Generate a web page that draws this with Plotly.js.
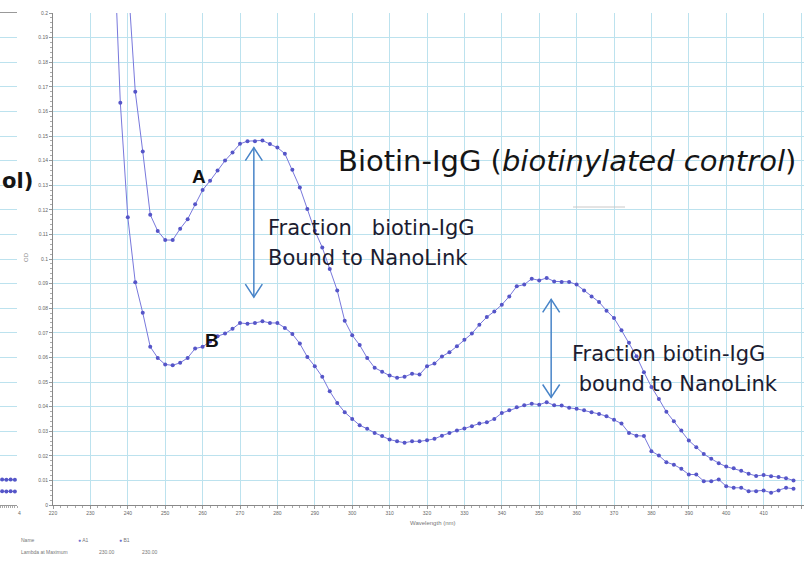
<!DOCTYPE html>
<html><head><meta charset="utf-8">
<script src="https://cdn.plot.ly/plotly-3.0.1.min.js"></script>
<style>html,body{margin:0;padding:0;background:#fff}#chart{width:804px;height:561px}</style>
</head><body><div id="chart"></div>
<script>
// Wavelengths (nm)
const wavelength = [236,238,240,242,244,246,248,250,252,254,256,258,260,262,264,266,268,270,272,274,276,278,280,282,284,286,288,290,292,294,296,298,300,302,304,306,308,310,312,314,316,318,320,322,324,326,328,330,332,334,336,338,340,342,344,346,348,350,352,354,356,358,360,362,364,366,368,370,372,374,376,378,380,382,384,386,388,390,392,394,396,398,400,402,404,406,408,410,412,414,416,418];
// Curve A (OD)
const seriesA = [null,null,0.215,0.168,0.1437,0.118,0.1114,0.1077,0.1077,0.1123,0.1162,0.1223,0.128,0.1318,0.136,0.140,0.1433,0.1468,0.1479,0.1479,0.1482,0.1467,0.1453,0.1428,0.1363,0.1291,0.1203,0.1115,0.1047,0.0959,0.0872,0.0749,0.069,0.065,0.0598,0.0558,0.0542,0.0526,0.0517,0.0521,0.0534,0.053,0.0564,0.0575,0.0604,0.0621,0.0645,0.0672,0.0697,0.0733,0.0764,0.0787,0.0814,0.0848,0.0889,0.0896,0.092,0.0913,0.0923,0.0909,0.0907,0.0907,0.0896,0.0872,0.0848,0.0825,0.079,0.076,0.071,0.066,0.0605,0.054,0.048,0.0431,0.0379,0.034,0.0303,0.0262,0.0235,0.0207,0.0188,0.017,0.0156,0.0149,0.0139,0.0127,0.0118,0.0122,0.0117,0.0114,0.0109,0.0100];
// Curve B (OD)
const seriesB = [0.24,0.1635,0.117,0.0905,0.0781,0.0643,0.0598,0.0571,0.0568,0.0578,0.0598,0.0636,0.0643,0.0665,0.0686,0.0697,0.0716,0.074,0.0737,0.074,0.0747,0.074,0.074,0.072,0.0695,0.0656,0.0602,0.0564,0.0521,0.0462,0.0415,0.0377,0.035,0.0324,0.031,0.0293,0.028,0.0266,0.0259,0.0253,0.0259,0.0259,0.0263,0.0269,0.0282,0.0293,0.0303,0.0311,0.032,0.0331,0.0336,0.035,0.0374,0.0385,0.0397,0.0405,0.0412,0.0408,0.0418,0.0405,0.0404,0.0395,0.0391,0.0385,0.0377,0.037,0.0361,0.0347,0.0331,0.0293,0.0282,0.028,0.0219,0.0201,0.0174,0.0164,0.0147,0.0124,0.0124,0.0097,0.0097,0.0104,0.0076,0.007,0.007,0.0056,0.0056,0.0059,0.005,0.0059,0.007,0.0066];
// Fragment of neighbouring chart (left edge)
const fragX = [0.5,1.5,2.5,3.5];
const fragA = [0.0104,0.0103,0.0104,0.0103];
const fragB = [0.0056,0.0055,0.0056,0.0055];

const W = 804, H = 561, T = 13, B = 56;
const px = x => x / W;
const py = y => (H - B - y) / (H - T - B);
const NM_PER_PX = (420.8 - 220) / (W - 53);
const OD_PER_PX = 0.2 / (H - T - B);

const lineCol = 'rgb(120,120,220)';
const markCol = 'rgb(85,85,200)';
const gridCol = 'rgb(188,226,238)';
const arrowCol = 'rgb(72,132,200)';
const txtCol = '#1c1c30';
const textFont = 'DejaVu Sans, sans-serif';

function dblArrow(xv, yTop, yBot) {
  const hw = 8.5 * NM_PER_PX, hl = 13 * OD_PER_PX;
  const st = {color: arrowCol, width: 1.5};
  return [
    {type: 'line', xref: 'x', yref: 'y', x0: xv, x1: xv, y0: yTop, y1: yBot, line: st},
    {type: 'path', xref: 'x', yref: 'y',
     path: `M${xv - hw},${yTop - hl} L${xv},${yTop} L${xv + hw},${yTop - hl}`, line: st},
    {type: 'path', xref: 'x', yref: 'y',
     path: `M${xv - hw},${yBot + hl} L${xv},${yBot} L${xv + hw},${yBot + hl}`, line: st}
  ];
}

const traces = [
  {x: wavelength, y: seriesA, mode: 'lines+markers', name: 'A1', xaxis: 'x', yaxis: 'y',
   line: {color: lineCol, width: 1}, marker: {color: markCol, size: 4}},
  {x: wavelength, y: seriesB, mode: 'lines+markers', name: 'B1', xaxis: 'x', yaxis: 'y',
   line: {color: lineCol, width: 1}, marker: {color: markCol, size: 4}},
  {x: fragX, y: fragA, mode: 'lines+markers', xaxis: 'x2', yaxis: 'y',
   line: {color: lineCol, width: 1}, marker: {color: markCol, size: 4}},
  {x: fragX, y: fragB, mode: 'lines+markers', xaxis: 'x2', yaxis: 'y',
   line: {color: lineCol, width: 1}, marker: {color: markCol, size: 4}}
];

const tickFont = {family: 'Liberation Sans, Arial, sans-serif', size: 5, color: '#666'};
const smallFont = {family: 'Liberation Sans, Arial, sans-serif', size: 5, color: '#777'};
const NB = '\u00a0';

function txt(xp, yp, text, size, extra) {
  return Object.assign({x: px(xp), y: py(yp), xref: 'paper', yref: 'paper', xanchor: 'left', yanchor: 'middle',
    text: text, showarrow: false, font: {family: textFont, size: size, color: txtCol}}, extra || {});
}

const ann = [
  {x: 259, y: 0.1335, xref: 'x', yref: 'y', text: '<b>A</b>', showarrow: false,
   font: {family: 'Liberation Sans, Arial, sans-serif', size: 19, color: '#111'}},
  {x: 262.5, y: 0.0668, xref: 'x', yref: 'y', text: '<b>B</b>', showarrow: false,
   font: {family: 'Liberation Sans, Arial, sans-serif', size: 19, color: '#111'}},
  txt(336, 161, 'Biotin-IgG (<i>biotinylated control</i>)', 29, {font: {family: textFont, size: 29, color: '#151515'}}),
  txt(266, 228, 'Fraction' + NB + NB + NB + 'biotin-IgG', 21),
  txt(266, 258, 'Bound to NanoLink', 21),
  txt(570, 354, 'Fraction biotin-IgG', 21),
  txt(570, 384, NB + 'bound to NanoLink', 21),
  // axis titles
  {x: px(21), y: py(257), xref: 'paper', yref: 'paper', text: 'OD', textangle: -90, showarrow: false,
   font: {family: 'Liberation Sans, Arial, sans-serif', size: 6, color: '#888'}},
  {x: px(432), y: py(528), xref: 'paper', yref: 'paper', text: 'Wavelength (nm)', showarrow: false,
   font: {family: 'Liberation Sans, Arial, sans-serif', size: 6, color: '#777'}},
  // fragment text from neighbouring chart
  txt(0, 181, '<b>ol)</b>', 21, {font: {family: textFont, size: 21, color: '#151515'}}),
  {x: px(16), y: py(518), xref: 'paper', yref: 'paper', text: '4', showarrow: false, font: tickFont},
  // bottom legend table
  {x: px(19), y: py(545), xref: 'paper', yref: 'paper', xanchor: 'left', text: 'Name', showarrow: false, font: smallFont},
  {x: px(76), y: py(545), xref: 'paper', yref: 'paper', xanchor: 'left', text: '<span style="color:rgb(110,110,210)">●</span> A1', showarrow: false, font: smallFont},
  {x: px(117), y: py(545), xref: 'paper', yref: 'paper', xanchor: 'left', text: '<span style="color:rgb(110,110,210)">●</span> B1', showarrow: false, font: smallFont},
  {x: px(19), y: py(557), xref: 'paper', yref: 'paper', xanchor: 'left', text: 'Lambda at Maximum', showarrow: false, font: smallFont},
  {x: px(97), y: py(557), xref: 'paper', yref: 'paper', xanchor: 'left', text: '230.00', showarrow: false, font: smallFont},
  {x: px(140), y: py(557), xref: 'paper', yref: 'paper', xanchor: 'left', text: '230.00', showarrow: false, font: smallFont}
];

const layout = {
  width: W, height: H,
  margin: {l: 0, r: 0, t: T, b: B, pad: 0},
  paper_bgcolor: '#fff', plot_bgcolor: '#fff',
  showlegend: false,
  xaxis: {
    domain: [px(53), 1], range: [220, 420.8], anchor: 'y',
    tickmode: 'linear', tick0: 220, dtick: 10,
    showgrid: true, gridcolor: gridCol, gridwidth: 1,
    zeroline: false, showline: true, linecolor: '#888', linewidth: 1,
    ticks: 'outside', ticklen: 3, tickcolor: '#999',
    minor: {dtick: 2, ticks: 'outside', ticklen: 2, tickcolor: '#aaa', showgrid: false},
    tickfont: tickFont
  },
  xaxis2: {
    domain: [0, px(17)], range: [0, 4], anchor: 'y',
    showgrid: false, zeroline: false, showline: true, mirror: true, linecolor: '#999',
    showticklabels: false, ticks: 'outside', ticklen: 2, dtick: 0.5, tickcolor: '#aaa'
  },
  yaxis: {
    domain: [0, 1], range: [0, 0.2], anchor: 'x',
    tickmode: 'linear', tick0: 0, dtick: 0.01,
    showgrid: true, gridcolor: gridCol, gridwidth: 1,
    zeroline: false, showline: true, linecolor: '#888', linewidth: 1,
    ticks: 'outside', ticklen: 3, tickcolor: '#999',
    minor: {dtick: 0.002, ticks: 'outside', ticklen: 2, tickcolor: '#aaa', showgrid: false},
    tickfont: tickFont
  },
  shapes: [
    {type: 'line', xref: 'paper', yref: 'paper', x0: px(573), x1: px(625), y0: py(207), y1: py(207),
     line: {color: '#c8c8c8', width: 1}}
  ].concat(dblArrow(273.7, 0.1453, 0.0845), dblArrow(353.2, 0.0836, 0.0437)),
  annotations: ann
};

Plotly.newPlot('chart', traces, layout, {staticPlot: true, displayModeBar: false});
</script></body></html>
